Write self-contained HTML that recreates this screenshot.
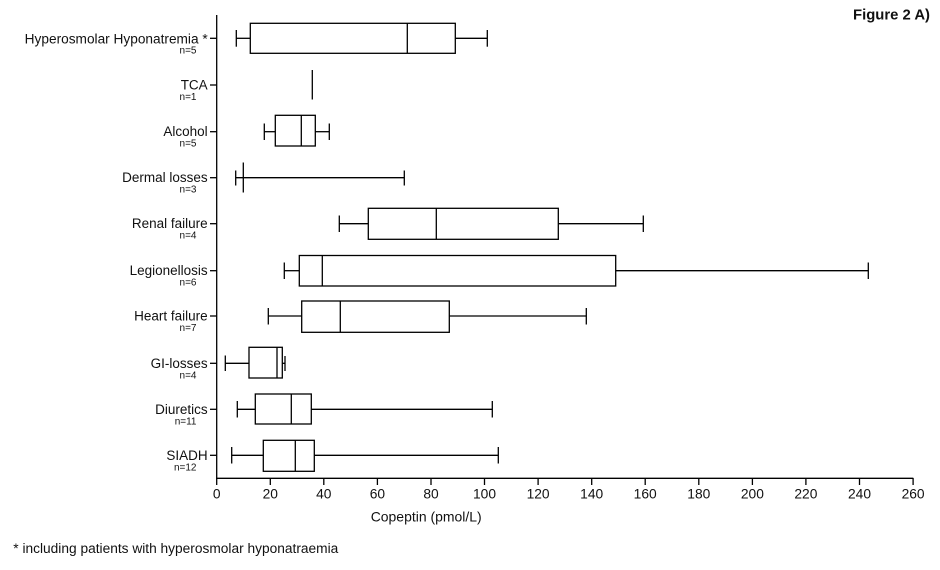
<!DOCTYPE html>
<html><head><meta charset="utf-8"><style>
html,body{margin:0;padding:0;background:#fff;}
svg{display:block;}
text{font-family:"Liberation Sans",Arial,sans-serif;fill:#111;}
</style></head><body>
<svg width="940" height="570" viewBox="0 0 940 570" xmlns="http://www.w3.org/2000/svg">
<rect width="940" height="570" fill="#fff"/>
<text x="930" y="19.5" text-anchor="end" font-size="14.7" font-weight="bold" textLength="77" lengthAdjust="spacingAndGlyphs">Figure 2 A)</text>

<g stroke="#000" stroke-width="1.3" fill="none">
<!-- axes -->
<line x1="216.7" y1="15" x2="216.7" y2="478.3"/>
<line x1="216.1" y1="478.3" x2="913.3" y2="478.3"/>
<!-- x ticks -->
<line x1="216.7" y1="478" x2="216.7" y2="485"/>
<line x1="270.3" y1="478" x2="270.3" y2="485"/>
<line x1="323.8" y1="478" x2="323.8" y2="485"/>
<line x1="377.4" y1="478" x2="377.4" y2="485"/>
<line x1="431.0" y1="478" x2="431.0" y2="485"/>
<line x1="484.5" y1="478" x2="484.5" y2="485"/>
<line x1="538.1" y1="478" x2="538.1" y2="485"/>
<line x1="591.7" y1="478" x2="591.7" y2="485"/>
<line x1="645.2" y1="478" x2="645.2" y2="485"/>
<line x1="698.8" y1="478" x2="698.8" y2="485"/>
<line x1="752.4" y1="478" x2="752.4" y2="485"/>
<line x1="805.9" y1="478" x2="805.9" y2="485"/>
<line x1="859.5" y1="478" x2="859.5" y2="485"/>
<line x1="913.1" y1="478" x2="913.1" y2="485"/>
<!-- y ticks -->
<line x1="210" y1="38.3" x2="217" y2="38.3"/>
<line x1="210" y1="85" x2="217" y2="85"/>
<line x1="210" y1="131.7" x2="217" y2="131.7"/>
<line x1="210" y1="177.7" x2="217" y2="177.7"/>
<line x1="210" y1="223.7" x2="217" y2="223.7"/>
<line x1="210" y1="270.7" x2="217" y2="270.7"/>
<line x1="210" y1="316" x2="217" y2="316"/>
<line x1="210" y1="363.3" x2="217" y2="363.3"/>
<line x1="210" y1="409.3" x2="217" y2="409.3"/>
<line x1="210" y1="455.3" x2="217" y2="455.3"/>

<!-- Hyperosmolar -->
<line x1="236.3" y1="38.3" x2="250.3" y2="38.3"/><line x1="236.3" y1="30" x2="236.3" y2="46.7"/>
<line x1="455.3" y1="38.3" x2="487.3" y2="38.3"/><line x1="487.3" y1="30" x2="487.3" y2="46.7"/>
<rect x="250.3" y="23.3" width="205" height="30"/><line x1="407.3" y1="23.3" x2="407.3" y2="53.3"/>
<!-- TCA -->
<line x1="312.3" y1="70" x2="312.3" y2="99.5"/>
<!-- Alcohol -->
<line x1="264.3" y1="131.7" x2="275.3" y2="131.7"/><line x1="264.3" y1="123.5" x2="264.3" y2="140"/>
<line x1="315.3" y1="131.7" x2="329.3" y2="131.7"/><line x1="329.3" y1="123.5" x2="329.3" y2="140"/>
<rect x="275.3" y="115.3" width="40" height="30.7"/><line x1="301.3" y1="115.3" x2="301.3" y2="146"/>
<!-- Dermal -->
<line x1="235.7" y1="177.7" x2="404.3" y2="177.7"/>
<line x1="235.7" y1="170.5" x2="235.7" y2="185.5"/>
<line x1="243.3" y1="162.5" x2="243.3" y2="192.5"/>
<line x1="404.3" y1="170.5" x2="404.3" y2="185.5"/>
<!-- Renal -->
<line x1="339.3" y1="223.7" x2="368.3" y2="223.7"/><line x1="339.3" y1="215.5" x2="339.3" y2="232"/>
<line x1="558.3" y1="223.7" x2="643.3" y2="223.7"/><line x1="643.3" y1="215.5" x2="643.3" y2="232"/>
<rect x="368.3" y="208.3" width="190" height="31"/><line x1="436.3" y1="208.3" x2="436.3" y2="239.3"/>
<!-- Legionellosis -->
<line x1="284.3" y1="270.7" x2="299.3" y2="270.7"/><line x1="284.3" y1="262.5" x2="284.3" y2="279"/>
<line x1="615.7" y1="270.7" x2="868.3" y2="270.7"/><line x1="868.3" y1="262.5" x2="868.3" y2="279"/>
<rect x="299.3" y="255.5" width="316.4" height="30.5"/><line x1="322.3" y1="255.5" x2="322.3" y2="286"/>
<!-- Heart failure -->
<line x1="268.3" y1="316" x2="301.7" y2="316"/><line x1="268.3" y1="308" x2="268.3" y2="324.5"/>
<line x1="449.3" y1="316" x2="586.3" y2="316"/><line x1="586.3" y1="308" x2="586.3" y2="324.5"/>
<rect x="301.7" y="301" width="147.6" height="31.3"/><line x1="340.3" y1="301" x2="340.3" y2="332.3"/>
<!-- GI -->
<line x1="225.3" y1="363.3" x2="249" y2="363.3"/><line x1="225.3" y1="355.5" x2="225.3" y2="371"/>
<line x1="282.3" y1="363.3" x2="285" y2="363.3"/><line x1="285" y1="356" x2="285" y2="371"/>
<rect x="249" y="347.3" width="33.3" height="30.7"/><line x1="277" y1="347.3" x2="277" y2="378"/>
<!-- Diuretics -->
<line x1="237.3" y1="409.3" x2="255.3" y2="409.3"/><line x1="237.3" y1="401" x2="237.3" y2="417.5"/>
<line x1="311.3" y1="409.3" x2="492.3" y2="409.3"/><line x1="492.3" y1="401" x2="492.3" y2="417.5"/>
<rect x="255.3" y="394" width="56" height="30"/><line x1="291.3" y1="394" x2="291.3" y2="424"/>
<!-- SIADH -->
<line x1="231.7" y1="455.3" x2="263.3" y2="455.3"/><line x1="231.7" y1="447" x2="231.7" y2="463.5"/>
<line x1="314.3" y1="455.3" x2="498.3" y2="455.3"/><line x1="498.3" y1="447" x2="498.3" y2="463.5"/>
<rect x="263.3" y="440.3" width="51" height="31"/><line x1="295.3" y1="440.3" x2="295.3" y2="471.3"/>
</g>

<!-- category labels -->
<g font-size="13.5" text-anchor="end">
<text x="207.7" y="43.3" textLength="183" lengthAdjust="spacingAndGlyphs">Hyperosmolar Hyponatremia *</text>
<text x="207.7" y="89.5">TCA</text>
<text x="207.7" y="136.2">Alcohol</text>
<text x="207.7" y="182.2">Dermal losses</text>
<text x="207.7" y="228.2">Renal failure</text>
<text x="207.7" y="275.2">Legionellosis</text>
<text x="207.7" y="320.5">Heart failure</text>
<text x="207.7" y="367.8">GI-losses</text>
<text x="207.7" y="413.8">Diuretics</text>
<text x="207.7" y="459.8">SIADH</text>
</g>
<g font-size="10" text-anchor="end" style="fill:#222">
<text x="196.5" y="53.5">n=5</text>
<text x="196.5" y="100">n=1</text>
<text x="196.5" y="146.7">n=5</text>
<text x="196.5" y="192.7">n=3</text>
<text x="196.5" y="238.7">n=4</text>
<text x="196.5" y="285.7">n=6</text>
<text x="196.5" y="331">n=7</text>
<text x="196.5" y="378.3">n=4</text>
<text x="196.5" y="424.3">n=11</text>
<text x="196.5" y="470.3">n=12</text>
</g>

<!-- x tick labels -->
<g font-size="13.8" text-anchor="middle">
<text x="216.7" y="498.5">0</text>
<text x="270.3" y="498.5">20</text>
<text x="323.8" y="498.5">40</text>
<text x="377.4" y="498.5">60</text>
<text x="431.0" y="498.5">80</text>
<text x="484.5" y="498.5">100</text>
<text x="538.1" y="498.5">120</text>
<text x="591.7" y="498.5">140</text>
<text x="645.2" y="498.5">160</text>
<text x="698.8" y="498.5">180</text>
<text x="752.4" y="498.5">200</text>
<text x="805.9" y="498.5">220</text>
<text x="859.5" y="498.5">240</text>
<text x="913.1" y="498.5">260</text>
</g>
<text x="370.7" y="521.7" font-size="14" textLength="111" lengthAdjust="spacingAndGlyphs">Copeptin (pmol/L)</text>
<text x="13.3" y="553" font-size="13.5" textLength="325" lengthAdjust="spacingAndGlyphs">* including patients with hyperosmolar hyponatraemia</text>
</svg>
</body></html>
